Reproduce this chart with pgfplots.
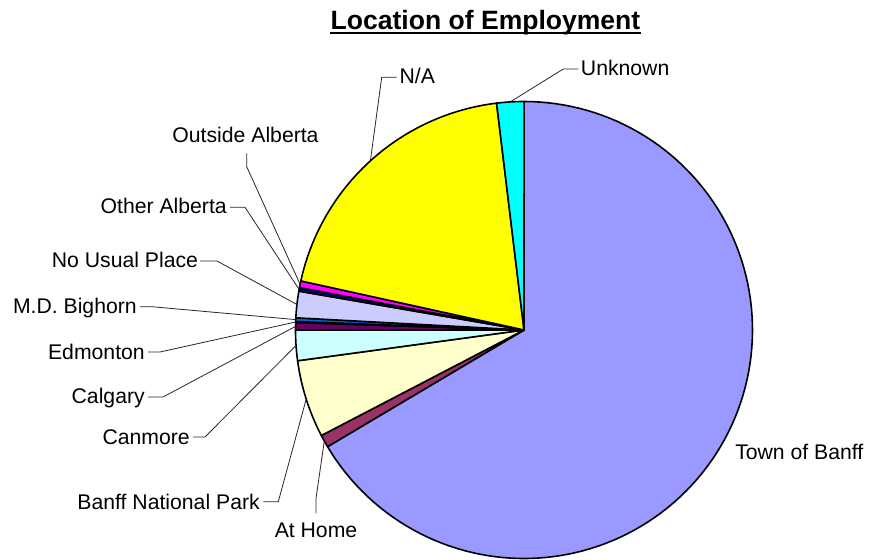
\documentclass[border=0pt]{standalone}
\usepackage{pgfplots}
\pgfplotsset{compat=1.18}
\usepackage{fontspec}
\setmainfont{Liberation Sans}

% Excel default pie colours
\definecolor{cTown}{HTML}{9999FF}
\definecolor{cHome}{HTML}{993366}
\definecolor{cBNP}{HTML}{FFFFCC}
\definecolor{cCanmore}{HTML}{CCFFFF}
\definecolor{cCalgary}{HTML}{660066}
\definecolor{cEdmonton}{HTML}{FF8080}
\definecolor{cMD}{HTML}{0066CC}
\definecolor{cNoUsual}{HTML}{CCCCFF}
\definecolor{cOtherAB}{HTML}{000080}
\definecolor{cOutAB}{HTML}{FF00FF}
\definecolor{cNA}{HTML}{FFFF00}
\definecolor{cUnknown}{HTML}{00FFFF}

% shares in percent, clockwise from 12 o'clock
\def\pTown{66.47}
\def\pHome{0.89}
\def\pBNP{5.49}
\def\pCanmore{2.14}
\def\pCalgary{0.53}
\def\pEdmonton{0.07}
\def\pMD{0.26}
\def\pNoUsual{1.87}
\def\pOtherAB{0.25}
\def\pOutAB{0.475}
\def\pNA{19.64}
\def\pUnknown{1.92}

\newcommand{\slice}[3]{%
  \addplot[fill=#3, draw=black, line width=1.2pt, line join=round, domain=#1:#2, samples=120]
    ({524+228.5*cos(x)},{330-228.5*sin(x)}) -- (axis cs:524,330) -- cycle;}

\begin{document}
\begin{tikzpicture}[
  lab/.style={font=\fontsize{15.9}{18}\selectfont, inner sep=0pt, text=black},
  lead/.style={draw=black!85, line width=0.6pt},
]
\pgfmathsetmacro\aA{90}
\pgfmathsetmacro\aB{\aA-3.6*\pTown}
\pgfmathsetmacro\aC{\aB-3.6*\pHome}
\pgfmathsetmacro\aD{\aC-3.6*\pBNP}
\pgfmathsetmacro\aE{\aD-3.6*\pCanmore}
\pgfmathsetmacro\aF{\aE-3.6*\pCalgary}
\pgfmathsetmacro\aG{\aF-3.6*\pEdmonton}
\pgfmathsetmacro\aH{\aG-3.6*\pMD}
\pgfmathsetmacro\aI{\aH-3.6*\pNoUsual}
\pgfmathsetmacro\aJ{\aI-3.6*\pOtherAB}
\pgfmathsetmacro\aK{\aJ-3.6*\pOutAB}
\pgfmathsetmacro\aL{\aK-3.6*\pNA}
\pgfmathsetmacro\aM{\aL-3.6*\pUnknown}
\begin{axis}[
  width=653.25pt, height=417.75pt, scale only axis,
  xmin=0, xmax=871, ymin=0, ymax=557, y dir=reverse,
  hide axis, clip=false, enlargelimits=false,
]
\path (axis cs:0,0) rectangle (axis cs:871,557);
\slice{\aB}{\aA}{cTown}
\slice{\aC}{\aB}{cHome}
\slice{\aD}{\aC}{cBNP}
\slice{\aE}{\aD}{cCanmore}
\slice{\aF}{\aE}{cCalgary}
\slice{\aG}{\aF}{cEdmonton}
\slice{\aH}{\aG}{cMD}
\slice{\aI}{\aH}{cNoUsual}
\slice{\aJ}{\aI}{cOtherAB}
\slice{\aK}{\aJ}{cOutAB}
\slice{\aL}{\aK}{cNA}
\slice{\aM}{\aL}{cUnknown}

% title
\node[anchor=base, inner sep=0pt, font=\fontsize{19.9}{23}\selectfont\bfseries] (t) at (axis cs:485.5,29.3) {Location of Employment};
\draw[line width=1.5pt] ([yshift=-3.1pt]t.base west) -- ([yshift=-3.1pt]t.base east);

% leader lines
\draw[lead] (axis cs:510.2,101.9) -- (axis cs:563.3,69) -- (axis cs:578.3,69);
\draw[lead] (axis cs:370.4,160.7) -- (axis cs:381.7,77.3) -- (axis cs:396.7,77.3);
\draw[lead] (axis cs:300.1,284.3) -- (axis cs:246.7,166.7) -- (axis cs:246.7,153.3);
\draw[lead] (axis cs:299.1,289.4) -- (axis cs:245,207.3) -- (axis cs:230,207.3);
\draw[lead] (axis cs:296.9,304.5) -- (axis cs:217,261) -- (axis cs:200,261);
\draw[lead] (axis cs:295.7,319.6) -- (axis cs:151.7,306.7) -- (axis cs:140,306.7);
\draw[lead] (axis cs:295.6,322.0) -- (axis cs:160,352) -- (axis cs:148,352);
\draw[lead] (axis cs:295.5,326.4) -- (axis cs:163,397) -- (axis cs:148,397);
\draw[lead] (axis cs:296.0,345.5) -- (axis cs:205,437) -- (axis cs:193,437);
\draw[lead] (axis cs:306.2,399.1) -- (axis cs:278.3,501.7) -- (axis cs:263.3,501.7);
\draw[lead] (axis cs:324.3,441.1) -- (axis cs:316,498.3) -- (axis cs:316,513.3);

% labels
\node[lab, anchor=base west] at (axis cs:580.7,75.5) {Unknown};
\node[lab, anchor=base west] at (axis cs:399.3,84.0) {N/A};
\node[lab, anchor=base] at (axis cs:245.5,142.3) {Outside Alberta};
\node[lab, anchor=base east] at (axis cs:227,213.3) {Other Alberta};
\node[lab, anchor=base east] at (axis cs:198.3,267.3) {No Usual Place};
\node[lab, anchor=base east] at (axis cs:137,313.3) {M.D. Bighorn};
\node[lab, anchor=base east] at (axis cs:145,359) {Edmonton};
\node[lab, anchor=base east] at (axis cs:145,403.3) {Calgary};
\node[lab, anchor=base east] at (axis cs:190,444.3) {Canmore};
\node[lab, anchor=base east] at (axis cs:260,509.3) {Banff National Park};
\node[lab, anchor=base] at (axis cs:316,537.7) {At Home};
\node[lab, anchor=base west] at (axis cs:735,459.3) {Town of Banff};
\end{axis}
\end{tikzpicture}
\end{document}
